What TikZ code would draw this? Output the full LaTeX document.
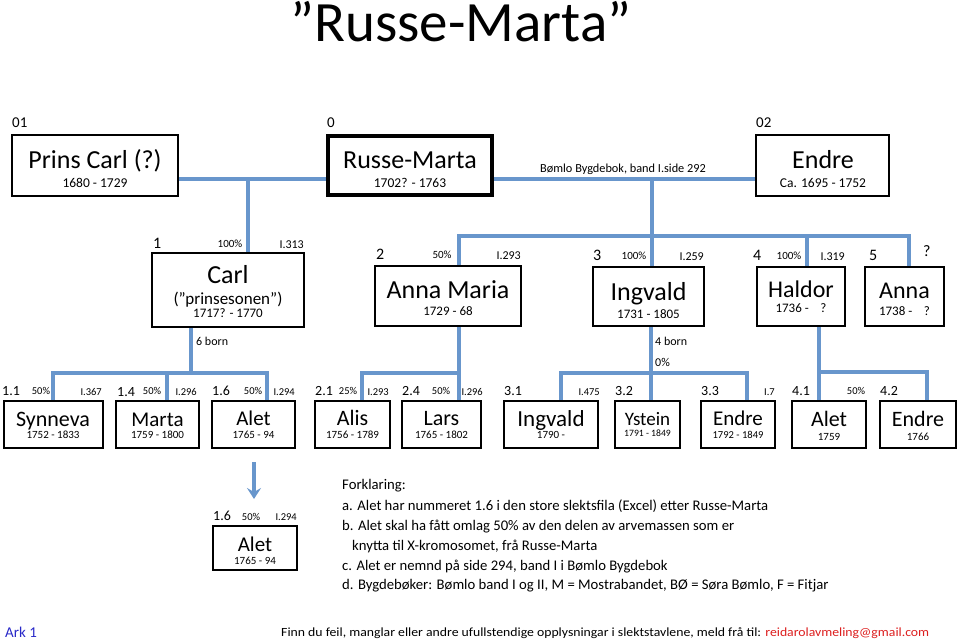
\documentclass[tikz,border=0pt]{standalone}
\usepackage{fontspec}
\setmainfont{Carlito}
\usetikzlibrary{arrows.meta}
\definecolor{lineblue}{RGB}{104,150,204}
\definecolor{arkblue}{RGB}{40,40,200}
\definecolor{mailred}{RGB}{220,30,30}
\newcommand\fs[1]{\fontsize{#1}{#1}\selectfont}
\pgfdeclarelayer{bg}
\pgfsetlayers{bg,main}
\begin{document}
\begin{tikzpicture}[x=1pt,y=-1pt,
  box/.style={draw, line width=1.9pt, inner sep=0pt, fill=white},
  conn/.style={draw=lineblue, line width=3.1pt},
  tc/.style={anchor=base, inner sep=0pt},
  tl/.style={anchor=base west, inner sep=0pt},
  tr/.style={anchor=base east, inner sep=0pt},
]
\useasboundingbox (0,0) rectangle (960,640);

% title
\node[tc] (title) at (461,41) {\fs{57}”Russe-Marta”};

% ---------- row 0
\node[box, minimum width=166pt, minimum height=61pt] (prins) at (95,165.5) {};
\node[box, line width=3.8pt, minimum width=164pt, minimum height=59pt] (russe) at (410,165.5) {};
\node[box, minimum width=133pt, minimum height=61pt] (endre0) at (822.5,165.5) {};
\node[tl] (l01) at (12,127) {\fs{15}01};
\node[tl] (l0) at (327,127) {\fs{15}0};
\node[tl] (l02) at (756,127) {\fs{15}02};
\node[tc] (prinsN) at (95,168) {\fs{26}Prins Carl (?)};
\node[tc] (prinsY) at (95,187) {\fs{13.5}1680 - 1729};
\node[tc] (russeN) at (410,168) {\fs{26}Russe-Marta};
\node[tc] (russeY) at (410,187) {\fs{13.5}1702? - 1763};
\node[tc] (endre0N) at (823,168) {\fs{26}Endre};
\node[tc] (endre0Y) at (823,187) {\fs{13.5}Ca. 1695 - 1752};
\node[tc] (bomlo) at (623,172) {\fs{12.3}Bømlo Bygdebok, band I.side 292};

% ---------- row 1
\node[box, minimum width=152pt, minimum height=74pt] (carl) at (228,290) {};
\node[box, minimum width=146pt, minimum height=60pt] (annam) at (448,296) {};
\node[box, minimum width=111pt, minimum height=59pt] (ingv) at (648.5,296.5) {};
\node[box, minimum width=88pt, minimum height=59pt] (haldor) at (801,296.5) {};
\node[box, minimum width=79pt, minimum height=59pt] (anna) at (904.5,296.5) {};

\node[tl] at (153,248) {\fs{16}1};
\node[tc] at (230,247) {\fs{11}100\%};
\node[tr] at (304,248) {\fs{12}I.313};
\node[tc] at (228,283) {\fs{26}Carl};
\node[tc] at (228,304) {\fs{17}(”prinsesonen”)};
\node[tc] at (228,317) {\fs{13}1717? - 1770};

\node[tl] at (376,259) {\fs{16}2};
\node[tc] at (442,258) {\fs{11}50\%};
\node[tr] at (521,259) {\fs{12}I.293};
\node[tc] at (448,298) {\fs{26}Anna Maria};
\node[tc] at (448,315) {\fs{13}1729 - 68};

\node[tl] at (593,260) {\fs{16}3};
\node[tc] at (634,259) {\fs{11}100\%};
\node[tr] at (704,260) {\fs{12}I.259};
\node[tc] at (648.5,300) {\fs{26}Ingvald};
\node[tc] at (648.5,318) {\fs{13}1731 - 1805};

\node[tl] at (753,260) {\fs{16}4};
\node[tc] at (789,259) {\fs{11}100\%};
\node[tr] at (845,260) {\fs{12}I.319};
\node[tc] at (801,297) {\fs{24}Haldor};
\node[tc] at (801,312) {\fs{13}1736 -\hspace{0.9em}?};

\node[tl] at (869,260) {\fs{16}5};
\node[tl] at (923,256) {\fs{16}?};
\node[tc] at (904.5,298) {\fs{24}Anna};
\node[tc] at (904.5,315) {\fs{13}1738 -\hspace{0.9em}?};

\node[tl] at (196,345) {\fs{12}6 born};
\node[tl] at (655,345) {\fs{12}4 born};
\node[tl] at (655,366) {\fs{12}0\%};

% ---------- row 2
\node[box, minimum width=99pt, minimum height=47pt] (synn) at (53.5,424.5) {};
\node[box, minimum width=83pt, minimum height=47pt] (marta) at (157.5,424.5) {};
\node[box, minimum width=83pt, minimum height=47pt] (alet) at (253.5,424.5) {};
\node[box, minimum width=75pt, minimum height=47pt] (alis) at (352.5,424.5) {};
\node[box, minimum width=79pt, minimum height=47pt] (lars) at (441.5,424.5) {};
\node[box, minimum width=94pt, minimum height=47pt] (ingv2) at (551,424.5) {};
\node[box, minimum width=65pt, minimum height=47pt] (ystein) at (647.5,424.5) {};
\node[box, minimum width=74pt, minimum height=47pt] (endre3) at (738,424.5) {};
\node[box, minimum width=74pt, minimum height=47pt] (alet4) at (829,424.5) {};
\node[box, minimum width=76pt, minimum height=47pt] (endre4) at (918,424.5) {};

\node[tl] at (2,395) {\fs{14}1.1};
\node[tc] at (41,394) {\fs{10.5}50\%};
\node[tr] at (102,395) {\fs{10.5}I.367};
\node[tc] at (53,426) {\fs{22}Synneva};
\node[tc] at (53,438) {\fs{11}1752 - 1833};

\node[tl] at (117,396) {\fs{14}1.4};
\node[tc] at (152,394) {\fs{10.5}50\%};
\node[tr] at (197,395) {\fs{10.5}I.296};
\node[tc] at (157.5,426) {\fs{21}Marta};
\node[tc] at (157.5,438) {\fs{11}1759 - 1800};

\node[tl] at (212,395) {\fs{14}1.6};
\node[tc] at (253,394) {\fs{10.5}50\%};
\node[tr] at (295,395) {\fs{10.5}I.294};
\node[tc] at (253.5,425) {\fs{21}Alet};
\node[tc] at (253.5,438) {\fs{11}1765 - 94};

\node[tl] at (315,395) {\fs{14}2.1};
\node[tc] at (348,394) {\fs{10.5}25\%};
\node[tr] at (389,395) {\fs{10.5}I.293};
\node[tc] at (352.5,425.5) {\fs{22}Alis};
\node[tc] at (352.5,438.5) {\fs{11}1756 - 1789};

\node[tl] at (402,395) {\fs{14}2.4};
\node[tc] at (441,394) {\fs{10.5}50\%};
\node[tr] at (483,395) {\fs{10.5}I.296};
\node[tc] at (441.5,425.5) {\fs{22}Lars};
\node[tc] at (441.5,438.5) {\fs{11}1765 - 1802};

\node[tl] at (504,395) {\fs{14}3.1};
\node[tr] at (600,395) {\fs{10.5}I.475};
\node[tc] at (551,426) {\fs{23}Ingvald};
\node[tc] at (551,438) {\fs{11}1790 -};

\node[tl] at (615,395) {\fs{14}3.2};
\node[tc] at (647.5,425) {\fs{19}Ystein};
\node[tc] at (647.5,436) {\fs{9.7}1791 - 1849};

\node[tl] at (701,395) {\fs{14}3.3};
\node[tr] at (775,395) {\fs{10.5}I.7};
\node[tc] at (738,425) {\fs{21}Endre};
\node[tc] at (738,438) {\fs{10.6}1792 - 1849};

\node[tl] at (792,395) {\fs{14}4.1};
\node[tc] at (856,394) {\fs{10.5}50\%};
\node[tc] at (829,426) {\fs{22}Alet};
\node[tc] at (829,440) {\fs{11}1759};

\node[tl] at (880,395) {\fs{14}4.2};
\node[tc] at (918,426) {\fs{22}Endre};
\node[tc] at (918,440) {\fs{11}1766};

% ---------- lower Alet
\node[box, minimum width=84pt, minimum height=44pt] (aletL) at (255,548) {};
\node[tl] at (213,520) {\fs{14}1.6};
\node[tc] at (251,520) {\fs{10.5}50\%};
\node[tr] at (297,520) {\fs{10.5}I.294};
\node[tc] at (255,551) {\fs{21}Alet};
\node[tc] at (255,564) {\fs{11}1765 - 94};

% ---------- legend
\node[tl] (f0) at (342,489) {\fs{14.7}Forklaring:};
\node[tl] (f1) at (342,510) {\fs{14.7}a. Alet har nummeret 1.6 i den store slektsfila (Excel) etter Russe-Marta};
\node[tl] (f2) at (342,530) {\fs{14.7}b. Alet skal ha fått omlag 50\% av den delen av arvemassen som er};
\node[tl] (f3) at (352,550) {\fs{14.7}knytta til X-kromosomet, frå Russe-Marta};
\node[tl] (f4) at (342,570) {\fs{14.7}c. Alet er nemnd på side 294, band I i Bømlo Bygdebok};
\node[tl] (f5) at (342,589) {\fs{14.7}d. Bygdebøker: Bømlo band I og II, M = Mostrabandet, BØ = Søra Bømlo, F = Fitjar};

% ---------- footer
\node[tl, text=arkblue] (ark) at (5,637) {\fs{15}Ark 1};
\node[tl] (foot) at (281,636) {\scalebox{1.1}[1]{\fs{12.5}Finn du feil, manglar eller andre ufullstendige opplysningar i slektstavlene, meld frå til: \textcolor{mailred}{reidarolavmeling@gmail.com}}};

% ---------- connectors
\coordinate (j1) at (248,179);
\coordinate (j2) at (652,179);
\coordinate (b1l) at (459,236);
\coordinate (b1h) at (807,236);
\coordinate (b1r) at (909,236);
\coordinate (k1) at (191,373);
\coordinate (k1l) at (53,373);
\coordinate (k1m) at (167,373);
\coordinate (k1r) at (267,373);
\coordinate (k2) at (459,373);
\coordinate (k2l) at (362,373);
\coordinate (k3) at (651,373);
\coordinate (k3l) at (561,373);
\coordinate (k3r) at (747,373);
\coordinate (k4) at (819,372);
\coordinate (k4r) at (927,372);
\coordinate (a1) at (254,462);
\coordinate (a2) at (254,499);

\begin{pgfonlayer}{bg}
\draw[conn] (prins.east |- j1) -- (russe.west |- j1);
\draw[conn] (j1) -- (carl.north -| j1);
\draw[conn] (russe.east |- j2) -- (endre0.west |- j2);
\draw[conn] (j2) -- (ingv.north -| j2);
\draw[conn] (annam.north -| b1l) -- (b1l) -- (b1r) -- (anna.north -| b1r);
\draw[conn] (b1h) -- (haldor.north -| b1h);
\draw[conn] (carl.south -| k1) -- (k1);
\draw[conn] (synn.north -| k1l) -- (k1l) -- (k1r) -- (alet.north -| k1r);
\draw[conn] (k1m) -- (marta.north -| k1m);
\draw[conn] (annam.south -| k2) -- (lars.north -| k2);
\draw[conn] (k2) -- (k2l) -- (alis.north -| k2l);
\draw[conn] (ingv.south -| k3) -- (ystein.north -| k3);
\draw[conn] (ingv2.north -| k3l) -- (k3l) -- (k3r) -- (endre3.north -| k3r);
\draw[conn] (haldor.south -| k4) -- (alet4.north -| k4);
\draw[conn] (k4) -- (k4r) -- (endre4.north -| k4r);
\end{pgfonlayer}
\draw[conn, -{Stealth[length=11pt,width=14pt,inset=4pt]}] (a1) -- (a2);
\end{tikzpicture}
\end{document}
